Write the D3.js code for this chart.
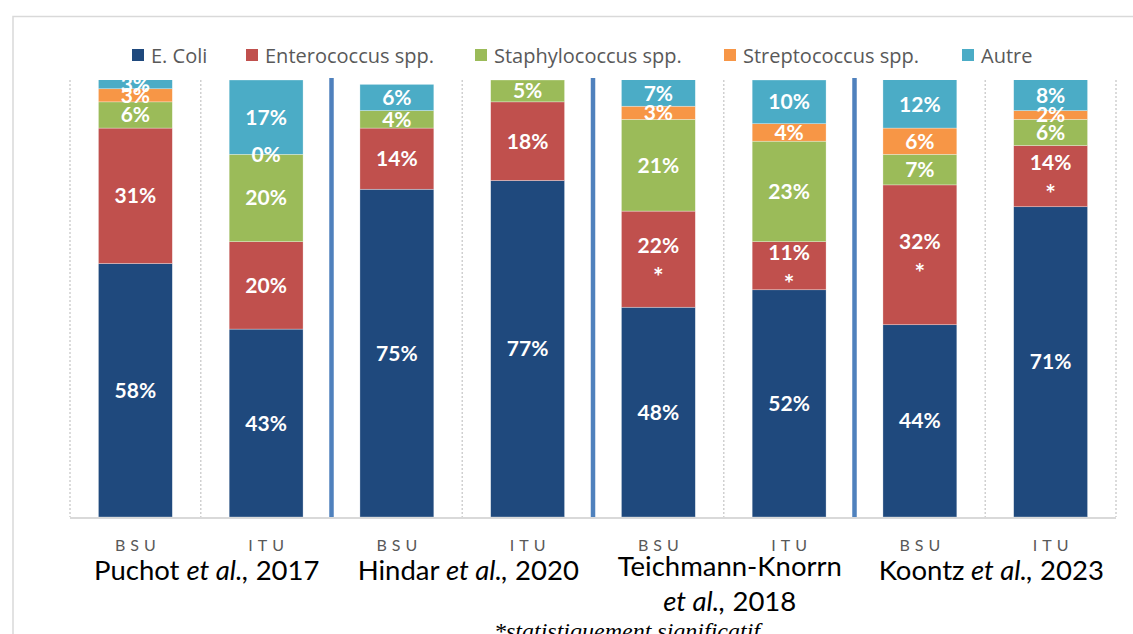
<!DOCTYPE html>
<html>
<head>
<meta charset="utf-8">
<script src="https://cdn.jsdelivr.net/npm/d3@7"></script>
<style>
  body { margin: 0; background: #fff; }
  svg { display: block; font-family: Lato, 'Open Sans', sans-serif; }
</style>
</head>
<body>
<div id="graph"></div>
<script>
// columns, left to right
var bars = ['P-BSU', 'P-ITU', 'H-BSU', 'H-ITU', 'T-BSU', 'T-ITU', 'K-BSU', 'K-ITU']
var barTypes = ['BSU', 'ITU', 'BSU', 'ITU', 'BSU', 'ITU', 'BSU', 'ITU']

var series = ['E. Coli', 'Enterococcus spp.', 'Staphylococcus spp.', 'Streptococcus spp.', 'Autre']
var colors = ['#1f497d', '#c0504d', '#9bbb59', '#f79646', '#4bacc6']

// % values, null = no segment / no label
var eColi = [58, 43, 75, 77, 48, 52, 44, 71]
var entero = [31, 20, 14, 18, 22, 11, 32, 14]
var staph = [6, 20, 4, 5, 21, 23, 7, 6]
var strep = [3, 0, null, null, 3, 4, 6, 2]
var autre = [3, 17, 6, null, 7, 10, 12, 8]
var enteroSignif = [false, false, false, false, true, true, true, true]

var studies = [
  {bars: ['P-BSU', 'P-ITU'], lines: [['Puchot ', ' et al.,', ' 2017']]},
  {bars: ['H-BSU', 'H-ITU'], lines: [['Hindar', ' et al.,', ' 2020']]},
  {bars: ['T-BSU', 'T-ITU'], lines: [['Teichmann-Knorrn', '', ''], ['', 'et al.,', ' 2018']]},
  {bars: ['K-BSU', 'K-ITU'], lines: [['Koontz', ' et al.,', ' 2023']]}
]

var W = 1133, H = 634
var svg = d3.select('#graph').append('svg').attr('width', W).attr('height', H)

// frame
svg.append('path')
  .attr('d', 'M13,' + (H + 5) + 'V16.5H' + (W + 5))
  .attr('fill', 'none').attr('stroke', '#d9d9d9').attr('stroke-width', 1.5)

var x = d3.scaleBand().domain(bars).range([70, 1116]).paddingInner(0.435).paddingOuter(0.2175)
var y = d3.scaleLinear().domain([0, 100]).range([517, 80])

var table = bars.map(function(b, i){
  return {key: b, vals: [eColi[i], entero[i], staph[i], strep[i], autre[i]]}
})

// category separators
var bounds = bars.map(function(b){ return x(b) - x.step() * x.paddingInner() / 2 })
bounds.push(x(bars[bars.length - 1]) + x.bandwidth() + x.step() * x.paddingInner() / 2)

svg.append('g').selectAll('line').data(bounds).join('line')
  .attr('x1', d => d).attr('x2', d => d)
  .attr('y1', y(100)).attr('y2', y(0))
  .attr('stroke', '#d0d0d0').attr('stroke-width', 1.5).attr('stroke-dasharray', '2,2')

svg.append('clipPath').attr('id', 'plotclip').append('rect')
  .attr('x', 0).attr('y', y(100)).attr('width', W).attr('height', y(0) - y(100))

var plot = svg.append('g').attr('clip-path', 'url(#plotclip)')

table.forEach(function(d, i){
  var base = 0
  d.segs = d.vals.map(function(v, j){
    var s = {bar: d.key, i: i, j: j, v: v, y0: base, y1: base + (v || 0)}
    base = s.y1
    return s
  })
})

var segs = d3.merge(table.map(d => d.segs)).filter(s => s.v != null)

plot.selectAll('rect.seg').data(segs.filter(s => s.v > 0)).join('rect')
  .attr('class', 'seg')
  .attr('x', s => x(s.bar))
  .attr('width', x.bandwidth())
  .attr('y', s => y(s.y1))
  .attr('height', s => y(s.y0) - y(s.y1))
  .attr('fill', s => colors[s.j])
  .attr('stroke', 'rgba(255,255,255,0.5)').attr('stroke-width', 0.6)

// group separators
svg.append('g').selectAll('line').data([bounds[2], bounds[4], bounds[6]]).join('line')
  .attr('x1', d => d).attr('x2', d => d)
  .attr('y1', y(100) - 2).attr('y2', y(0))
  .attr('stroke', '#4f81bd').attr('stroke-width', 4.5)

// x axis line
svg.append('line')
  .attr('x1', bounds[0]).attr('x2', bounds[bounds.length - 1])
  .attr('y1', y(0) + 1).attr('y2', y(0) + 1)
  .attr('stroke', '#d9d9d9').attr('stroke-width', 2)

// value labels
function midY(s){
  var top = Math.min(s.y1, 100)
  return y((s.y0 + top) / 2)
}
function signif(s){ return s.j == 1 && enteroSignif[s.i] }

var lab = svg.append('g').attr('font-weight', 700).attr('fill', '#fff')
  .attr('font-size', 21).attr('text-anchor', 'middle')
lab.selectAll('text.v').data(segs).join('text')
  .attr('class', 'v')
  .attr('x', s => x(s.bar) + x.bandwidth() / 2)
  .attr('y', s => midY(s) + (signif(s) ? -6 : 7.5))
  .text(s => s.v + '%')
lab.selectAll('text.star').data(segs.filter(signif)).join('text')
  .attr('class', 'star')
  .attr('x', s => x(s.bar) + x.bandwidth() / 2)
  .attr('y', s => midY(s) + 27)
  .attr('font-size', 25)
  .text('*')

// BSU / ITU
svg.append('g').selectAll('text').data(bars).join('text')
  .attr('x', (d, i) => x(d) + x.bandwidth() / 2 + 2.5)
  .attr('y', 551)
  .attr('text-anchor', 'middle')
  .attr('font-size', 16).attr('letter-spacing', 5)
  .attr('fill', '#595959')
  .text((d, i) => barTypes[i])

// study labels
var st = svg.append('g').selectAll('text').data(studies).join('text')
  .attr('text-anchor', 'middle').attr('font-size', 27.5).attr('fill', '#000')
  .attr('transform', function(d){
    var cx = (x(d.bars[0]) + x(d.bars[1]) + x.bandwidth()) / 2 + 6
    return 'translate(' + cx + ',0)'
  })
st.each(function(d){
  var t = d3.select(this)
  var two = d.lines.length > 1
  d.lines.forEach(function(parts, li){
    parts.forEach(function(p, pi){
      if (!p) return
      var ts = t.append('tspan').text(p).attr('font-style', pi == 1 ? 'italic' : null)
      if (pi == 0 || (pi == 1 && !parts[0])) ts.attr('x', 0).attr('y', two ? 576 + li * 35 : 580)
    })
  })
})

// footnote
svg.append('text')
  .attr('x', 627).attr('y', 639)
  .attr('text-anchor', 'middle')
  .attr('font-family', "'Liberation Serif', 'DejaVu Serif', serif")
  .attr('font-style', 'italic').attr('font-size', 24)
  .text('*statistiquement significatif')

// legend
var legX = [132, 246, 475, 724, 962]
var leg = svg.append('g').selectAll('g').data(series).join('g')
  .attr('transform', (d, i) => 'translate(' + legX[i] + ',55)')
leg.append('rect').attr('x', 0).attr('y', -6).attr('width', 12).attr('height', 12)
  .attr('fill', (d, i) => colors[i])
leg.append('text').attr('x', 19).attr('y', 7.5)
  .attr('font-family', "'Open Sans', Lato, sans-serif")
  .attr('font-size', 20).attr('fill', '#595959')
  .text(d => d)
</script>
</body>
</html>
